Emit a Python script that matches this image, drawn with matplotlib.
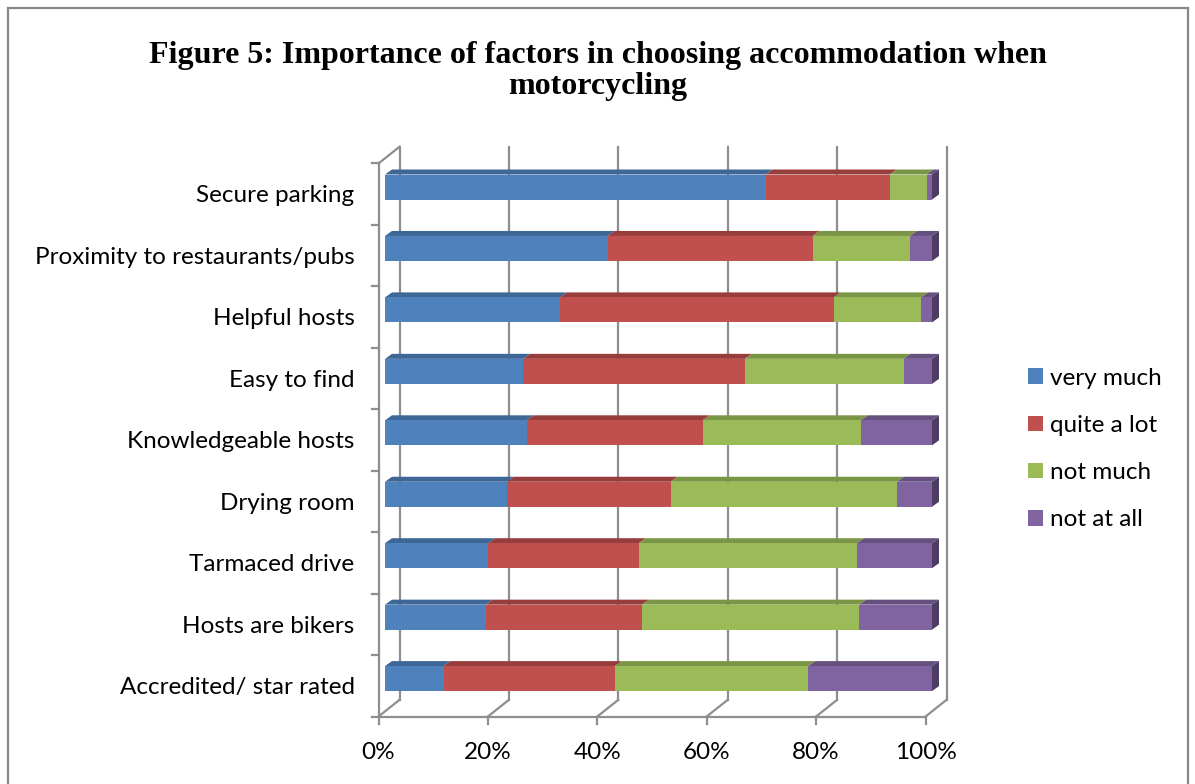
import numpy as np
import matplotlib.pyplot as plt
from matplotlib.patches import Polygon, Rectangle, Patch

categories = ["Secure parking", "Proximity to restaurants/pubs", "Helpful hosts",
              "Easy to find", "Knowledgeable hosts", "Drying room",
              "Tarmaced drive", "Hosts are bikers", "Accredited/ star rated"]
very_much = [69.6, 40.7, 32.0, 25.3, 25.9, 22.3, 18.9, 18.4, 10.7]
quite_a_lot = [22.7, 37.5, 50.0, 40.5, 32.2, 29.9, 27.5, 28.6, 31.3]
not_much = [6.7, 17.8, 16.0, 29.0, 28.9, 41.4, 39.9, 39.7, 35.4]
not_at_all = [1.0, 4.0, 2.0, 5.2, 13.0, 6.4, 13.7, 13.3, 22.6]
series_names = ["very much", "quite a lot", "not much", "not at all"]
ticks = [0, 20, 40, 60, 80, 100]
tick_labels = ["0%", "20%", "40%", "60%", "80%", "100%"]

front_cols = ["#4F81BD", "#C0504D", "#9BBB59", "#8064A2"]
top_cols = ["#3E6696", "#973E3C", "#7B9547", "#65507F"]
side_col = "#4E3D63"
grid_col = "#8E8E8E"
lab_font = ["Lato", "DejaVu Sans"]
fs = 17.5

W, H = 1195, 784
fig = plt.figure(figsize=(W / 100, H / 100), dpi=100)

# pixel geometry of the plot (bar front plane)
X0, SX = 385, 5.47      # 0% position, px per %
Y0, SY = 187, 61.45     # first category centre, px per category
ax_l, ax_r, ax_t, ax_b = 360, 965, 130, 740
ax = fig.add_axes([ax_l / W, 1 - ax_b / H, (ax_r - ax_l) / W, (ax_b - ax_t) / H])
ax.set_xlim((ax_l - X0) / SX, (ax_r - X0) / SX)
ax.set_ylim((ax_b - Y0) / SY, (ax_t - Y0) / SY)
ax.axis("off")

def dx(p):
    return p / SX

def dy(p):
    return p / SY

n = len(categories)
ypos = np.arange(n)
FRONT = (dx(-6.5), dy(7.2))
BACK = (dx(14.5), dy(-9.5))
TOP = (dx(7), dy(-5))
half = dy(12.5)
y_bot, y_top = n - 0.5, -0.5

# back wall gridlines and floor
for t in ticks:
    ax.plot([t + BACK[0]] * 2, [y_bot + BACK[1], y_top + BACK[1]], color=grid_col, lw=1.6, zorder=1)
    ax.plot([t + FRONT[0], t + BACK[0]], [y_bot + FRONT[1], y_bot + BACK[1]], color=grid_col, lw=1.6, zorder=1)
    ax.plot([t + FRONT[0]] * 2, [y_bot + FRONT[1], y_bot + FRONT[1] + dy(7.5)], color=grid_col, lw=1.6, zorder=1)
ax.plot([FRONT[0], 100 + FRONT[0]], [y_bot + FRONT[1]] * 2, color=grid_col, lw=1.6, zorder=1)
# left wall
ax.plot([FRONT[0]] * 2, [y_bot + FRONT[1], y_top + FRONT[1]], color=grid_col, lw=1.6, zorder=1)
ax.plot([FRONT[0], BACK[0]], [y_top + FRONT[1], y_top + BACK[1]], color=grid_col, lw=1.6, zorder=1)
for b in np.arange(n + 1) - 0.5:
    ax.plot([FRONT[0] - dx(6.5), FRONT[0]], [b + FRONT[1]] * 2, color=grid_col, lw=1.6, zorder=1)

# stacked bars
data = np.array([very_much, quite_a_lot, not_much, not_at_all])
left = np.zeros(n)
for s in range(4):
    vals = data[s]
    ax.barh(ypos, vals, left=left, height=2 * half, color=front_cols[s], zorder=3)
    for i in range(n):
        x0, x1 = left[i], left[i] + vals[i]
        yt = ypos[i] - half
        ax.add_patch(Polygon([(x0, yt), (x1, yt), (x1 + TOP[0], yt + TOP[1]), (x0 + TOP[0], yt + TOP[1])],
                             closed=True, color=top_cols[s], lw=0, zorder=2))
    left = left + vals
for i in range(n):
    x1 = left[i]
    yt, yb = ypos[i] - half, ypos[i] + half
    ax.add_patch(Polygon([(x1, yb), (x1, yt), (x1 + TOP[0], yt + TOP[1]), (x1 + TOP[0], yb + TOP[1])],
                         closed=True, color=side_col, lw=0, zorder=3))

# category labels
for i, c in enumerate(categories):
    ax.annotate(c, (FRONT[0], ypos[i]), xytext=(-24, -9), textcoords="offset pixels",
                ha="right", va="center", fontsize=fs, family=lab_font)
# tick labels
for t, tl in zip(ticks, tick_labels):
    ax.annotate(tl, (t + FRONT[0], y_bot + FRONT[1]), xytext=(0, -35.5), textcoords="offset pixels",
                ha="center", va="center", fontsize=fs, family=lab_font)

# legend
handles = [Patch(facecolor=c, edgecolor="none") for c in front_cols]
fig.legend(handles, series_names, loc="center left", bbox_to_anchor=(1009 / W, 1 - 449 / H),
           frameon=False, prop={"family": lab_font, "size": fs}, handlelength=0.6,
           handleheight=0.6, handletextpad=0.3, labelspacing=1.08, borderpad=0.3)

# title
fig.text(0.5, 1 - 71 / H, "Figure 5: Importance of factors in choosing accommodation when\nmotorcycling",
         ha="center", va="center", fontsize=23, fontweight="bold", family="Liberation Serif",
         linespacing=1.09)

# outer border
fig.add_artist(Rectangle((8 / W, -0.02), 1180 / W, 1.02 - 8 / H, transform=fig.transFigure,
                         fill=False, edgecolor="#878787", lw=1.6))

fig.savefig("out.png", dpi=100)
